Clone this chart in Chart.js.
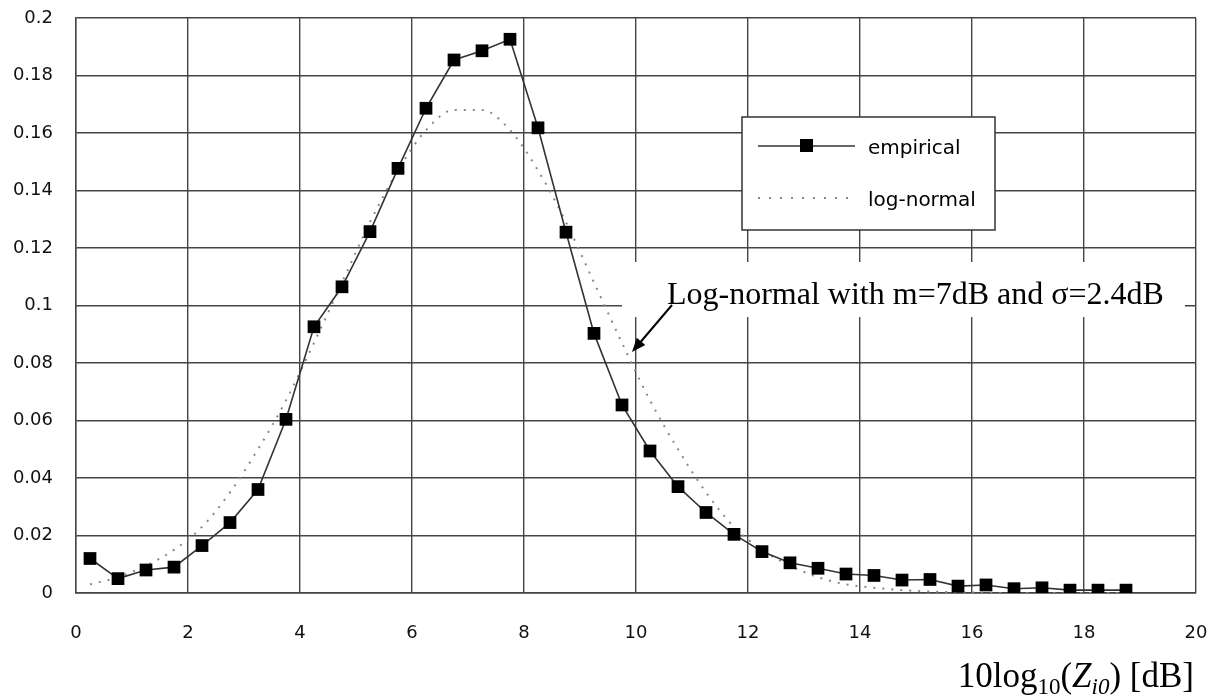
<!DOCTYPE html>
<html>
<head>
<meta charset="utf-8">
<script src="https://cdn.jsdelivr.net/npm/chart.js@4.4.0/dist/chart.umd.min.js"></script>
<style>
  html, body { margin: 0; padding: 0; background: #fff; }
  #wrap { width: 1215px; height: 696px; }
</style>
</head>
<body>
<div id="wrap"><canvas id="myChart" width="1215" height="696"></canvas></div>
<script>
// bin centres [dB]
const binX = [0.25, 0.75, 1.25, 1.75, 2.25, 2.75, 3.25, 3.75, 4.25, 4.75,
              5.25, 5.75, 6.25, 6.75, 7.25, 7.75, 8.25, 8.75, 9.25, 9.75,
              10.25, 10.75, 11.25, 11.75, 12.25, 12.75, 13.25, 13.75, 14.25, 14.75,
              15.25, 15.75, 16.25, 16.75, 17.25, 17.75, 18.25, 18.75];
// empirical pdf (squares)
const empirical = [0.012, 0.005, 0.008, 0.009, 0.0165, 0.0245, 0.036, 0.0604, 0.0926, 0.1065,
                   0.1257, 0.1477, 0.1686, 0.1854, 0.1886, 0.1926, 0.1618, 0.1255, 0.0903, 0.0654,
                   0.0494, 0.037, 0.028, 0.0204, 0.0144, 0.0105, 0.0086, 0.0066, 0.0061, 0.0045,
                   0.0047, 0.0024, 0.0028, 0.0015, 0.0018, 0.001, 0.001, 0.001];
// log-normal fit (dotted)
const logNormal = [0.003, 0.0055, 0.0095, 0.015, 0.023, 0.035, 0.05, 0.067, 0.087, 0.108,
                   0.129, 0.147, 0.161, 0.168, 0.168, 0.161, 0.147, 0.129, 0.108, 0.087,
                   0.067, 0.05, 0.035, 0.023, 0.015, 0.0095, 0.0055, 0.003, 0.0018, 0.001,
                   0.0005, 0.0003, 0.0001, 0, 0, 0, 0, 0];
const xTicks = ['0', '2', '4', '6', '8', '10', '12', '14', '16', '18', '20'];
const yTicks = ['0', '0.02', '0.04', '0.06', '0.08', '0.1', '0.12', '0.14', '0.16', '0.18', '0.2'];

const sans = '"DejaVu Sans", sans-serif';
const serif = '"Liberation Serif", "Times New Roman", serif';

const pts = (ys) => binX.map((x, i) => ({ x: x, y: ys[i] }));

// white box + note + arrow, legend box, axis title
const extras = {
    id: 'extras',
    beforeDatasetsDraw(chart) {
        const c = chart.ctx;
        c.save();
        c.fillStyle = '#fff';
        c.fillRect(622, 262, 563, 55);
        c.restore();
    },
    afterDatasetsDraw(chart) {
        const c = chart.ctx;
        c.save();

        // note
        c.fillStyle = '#000';
        c.font = '32px ' + serif;
        c.textBaseline = 'alphabetic';
        c.textAlign = 'left';
        c.fillText('Log-normal with m=7dB and \u03c3=2.4dB', 667, 304);

        // arrow
        c.strokeStyle = '#000';
        c.lineWidth = 2;
        c.beginPath();
        c.moveTo(672, 305);
        c.lineTo(638, 345);
        c.stroke();
        const ang = Math.atan2(352 - 305, 632 - 672);
        c.beginPath();
        c.moveTo(632, 352);
        c.lineTo(632 - 15 * Math.cos(ang - 0.38), 352 - 15 * Math.sin(ang - 0.38));
        c.lineTo(632 - 15 * Math.cos(ang + 0.38), 352 - 15 * Math.sin(ang + 0.38));
        c.closePath();
        c.fill();

        // legend
        c.fillStyle = '#fff';
        c.fillRect(742, 117, 253, 113);
        c.strokeStyle = '#333';
        c.lineWidth = 1.5;
        c.strokeRect(742, 117, 253, 113);

        const ds = chart.data.datasets;
        c.strokeStyle = '#333';
        c.lineWidth = 1.5;
        c.beginPath();
        c.moveTo(758, 146);
        c.lineTo(855, 146);
        c.stroke();
        c.fillStyle = '#000';
        c.fillRect(800, 139, 13, 13);

        c.strokeStyle = '#888';
        c.lineWidth = 1.8;
        c.setLineDash([2, 9]);
        c.beginPath();
        c.moveTo(758, 198);
        c.lineTo(855, 198);
        c.stroke();
        c.setLineDash([]);

        c.fillStyle = '#000';
        c.font = '20px ' + sans;
        c.textBaseline = 'middle';
        c.fillText(ds[0].label, 868, 149);
        c.fillText(ds[1].label, 868, 201);

        // x axis title with subscripts
        const parts = [
            { t: '10log', f: '35px ' + serif, dy: 0 },
            { t: '10', f: '23px ' + serif, dy: 7 },
            { t: '(', f: '35px ' + serif, dy: 0 },
            { t: 'Z', f: 'italic 35px ' + serif, dy: 0 },
            { t: 'i0', f: 'italic 23px ' + serif, dy: 7 },
            { t: ') [dB]', f: '35px ' + serif, dy: 0 }
        ];
        c.textBaseline = 'alphabetic';
        let w = 0;
        parts.forEach(p => { c.font = p.f; p.w = c.measureText(p.t).width; w += p.w; });
        let x = 1194 - w;
        c.fillStyle = '#000';
        parts.forEach(p => { c.font = p.f; c.fillText(p.t, x, 687 + p.dy); x += p.w; });

        c.restore();
    }
};

const ctx = document.getElementById('myChart');
const myChart = new Chart(ctx, {
    type: 'line',
    data: {
        datasets: [{
            label: 'empirical',
            data: pts(empirical),
            borderColor: '#333',
            borderWidth: 1.6,
            pointStyle: 'rect',
            pointRadius: 9,
            pointBackgroundColor: '#000',
            pointBorderColor: '#000',
            pointBorderWidth: 0,
            tension: 0
        }, {
            label: 'log-normal',
            data: pts(logNormal),
            borderColor: '#888',
            borderWidth: 2,
            borderDash: [2, 7],
            pointRadius: 0,
            cubicInterpolationMode: 'monotone'
        }]
    },
    options: {
        responsive: false,
        animation: false,
        layout: { padding: { top: 18, left: 0, right: 19, bottom: 43 } },
        plugins: {
            legend: { display: false },
            tooltip: { enabled: false }
        },
        scales: {
            x: {
                type: 'linear',
                min: 0,
                max: 20,
                afterFit: (s) => { s.height = 60; s.paddingLeft = 0; s.paddingRight = 0; },
                afterBuildTicks: (s) => { s.ticks = xTicks.map(v => ({ value: Number(v) })); },
                ticks: {
                    callback: (v, i) => xTicks[i],
                    font: { family: sans, size: 18 },
                    color: '#111',
                    padding: 30,
                    maxRotation: 0
                },
                grid: { color: '#444', lineWidth: 1.4, drawTicks: false },
                border: { color: '#444', width: 1.4 }
            },
            y: {
                min: 0,
                max: 0.2,
                afterFit: (s) => { s.width = 76; s.paddingTop = 0; s.paddingBottom = 0; },
                afterBuildTicks: (s) => { s.ticks = yTicks.map(v => ({ value: Number(v) })); },
                ticks: {
                    callback: (v, i) => yTicks[i],
                    font: { family: sans, size: 18 },
                    color: '#111',
                    padding: 23
                },
                grid: { color: '#444', lineWidth: 1.4, drawTicks: false },
                border: { color: '#444', width: 1.4 }
            }
        }
    },
    plugins: [extras]
});
</script>
</body>
</html>
